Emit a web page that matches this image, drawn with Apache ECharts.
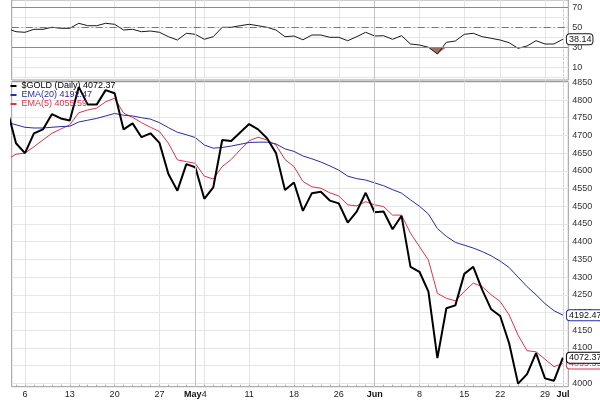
<!DOCTYPE html>
<html>
<head>
<meta charset="utf-8">
<script src="https://cdn.jsdelivr.net/npm/echarts@6/dist/echarts.min.js"></script>
<style>
  html, body { margin: 0; padding: 0; background: #fff; }
  #chart { width: 600px; height: 400px; }
</style>
</head>
<body>
<div id="chart"></div>
<script>
// trading days shown (Apr 2 sits just left of the plot and gets clipped)
var dates = [
  'Apr 2', 'Apr 3', 'Apr 6', 'Apr 7', 'Apr 8', 'Apr 9', 'Apr 10', 'Apr 13', 'Apr 14', 'Apr 15', 'Apr 16',
  'Apr 17', 'Apr 20', 'Apr 21', 'Apr 22', 'Apr 23', 'Apr 24', 'Apr 27', 'Apr 28', 'Apr 29', 'Apr 30',
  'May 1', 'May 4', 'May 5', 'May 6', 'May 7', 'May 8', 'May 11', 'May 12', 'May 13', 'May 14',
  'May 15', 'May 18', 'May 19', 'May 20', 'May 21', 'May 22', 'May 26', 'May 27', 'May 28', 'May 29',
  'Jun 1', 'Jun 2', 'Jun 3', 'Jun 4', 'Jun 5', 'Jun 8', 'Jun 9', 'Jun 10', 'Jun 11', 'Jun 12',
  'Jun 15', 'Jun 16', 'Jun 17', 'Jun 18', 'Jun 22', 'Jun 23', 'Jun 24', 'Jun 25', 'Jun 26', 'Jun 29',
  'Jun 30', 'Jul 1'
];

var closes = [
  4775, 4678, 4650, 4706, 4717, 4760, 4748, 4742, 4837, 4787, 4787,
  4828, 4819, 4717, 4734, 4695, 4706, 4679, 4591, 4544, 4619,
  4610, 4521, 4553, 4687, 4684, 4708, 4732, 4717, 4692, 4650,
  4546, 4567, 4487, 4537, 4541, 4516, 4508, 4454, 4485, 4538,
  4483, 4485, 4435, 4473, 4329, 4315, 4259, 4071, 4212, 4220,
  4309, 4329, 4264, 4209, 4190, 4113, 3999, 4026, 4085, 4014,
  4007, 4072.37
];

var ema20 = [
  4737, 4730, 4723, 4721, 4721, 4723, 4725, 4726, 4738, 4743, 4748,
  4755, 4762, 4757, 4755, 4750, 4746, 4736, 4722, 4709, 4702,
  4694, 4673, 4664, 4666, 4670, 4675, 4680, 4681, 4681, 4676,
  4662, 4655, 4642, 4634, 4625, 4614, 4602, 4585, 4578, 4574,
  4566, 4558, 4547, 4537, 4518, 4500, 4478, 4437, 4415, 4398,
  4390, 4382, 4372, 4360, 4345, 4327, 4300, 4273, 4250, 4225,
  4205, 4192.47
];

var ema5 = [
  4632, 4647, 4650, 4668, 4687, 4706, 4718, 4730, 4764, 4772, 4777,
  4795, 4805, 4763, 4751, 4736, 4723, 4711, 4678, 4631, 4626,
  4621, 4585, 4577, 4612, 4632, 4659, 4685, 4695, 4687, 4673,
  4632, 4612, 4570, 4555, 4551, 4538, 4529, 4504, 4501, 4513,
  4504, 4499, 4475, 4475, 4424, 4386, 4348, 4254, 4240, 4233,
  4259, 4283, 4273, 4250, 4231, 4193, 4136, 4092, 4089, 4068,
  4047, 4055.59
];

var rsi = [
  48.8, 45.6, 45, 48, 48, 50, 49, 49, 54, 51.6, 51.6,
  54, 53, 47.3, 48, 45.6, 46.3, 45, 40.6, 37.3, 44,
  43, 38, 40.6, 50, 50, 51.6, 53, 51.6, 50, 47.3,
  40.6, 41.3, 37.5, 42.3, 42.3, 40, 40, 36.6, 40.6, 45,
  41.3, 41.6, 38, 41.6, 33.3, 32.3, 30, 23.3, 35, 36.3,
  43, 44, 40.6, 39, 37.3, 34.6, 29, 31.3, 36.6, 33.3,
  33.3, 38.14
];

var priceTicks = [4000, 4050, 4100, 4150, 4200, 4250, 4300, 4350, 4400, 4450,
  4500, 4550, 4600, 4650, 4700, 4750, 4800, 4850];
var rsiTicks = [10, 30, 50, 70];
var rsiGridLines = [0, 10, 20, 30, 40, 50, 60, 70];
var xTickDates = ['Apr 6', 'Apr 13', 'Apr 20', 'Apr 27', 'May 1', 'May 4', 'May 11', 'May 18',
  'May 26', 'Jun 1', 'Jun 8', 'Jun 15', 'Jun 22', 'Jun 29', 'Jul 1'];
var xTickText = ['6', '13', '20', '27', 'May', '4', '11', '18', '26', 'Jun', '8', '15', '22', '29', 'Jul'];
var monthStarts = ['May 1', 'Jun 1', 'Jul 1'];

var C_CLOSE = '#000000', C_EMA20 = '#2a2aa6', C_EMA5 = '#e0304f';
var FONT = '"Liberation Sans", Arial, sans-serif';

function pairs(arr) {
  return arr.map(function (v, k) { return [k, v]; });
}

var xTickIdx = xTickDates.map(function (d) { return dates.indexOf(d); });
var dayIdx = dates.map(function (d, k) { return k; });
var tickLabel = {};
xTickIdx.forEach(function (k, j) {
  var t = xTickText[j];
  if (t === 'May') tickLabel[k] = '{ml|' + t + '}';
  else if (/^[A-Z]/.test(t)) tickLabel[k] = '{m|' + t + '}';
  else tickLabel[k] = t;
});

var monthLines = monthStarts.map(function (d, j) {
  return {
    xAxis: dates.indexOf(d),
    lineStyle: { color: j < 2 ? '#c4c4c4' : '#cccccc', type: j < 2 ? 'solid' : [2, 2], width: 1 }
  };
});

function dayAxis(gridIndex, withLabels) {
  return {
    type: 'value',
    gridIndex: gridIndex,
    min: 0.52,
    max: 62.6,
    axisLine: { show: false },
    axisTick: { show: false, customValues: xTickIdx },
    axisLabel: {
      show: withLabels,
      customValues: xTickIdx,
      fontSize: 9,
      fontFamily: FONT,
      color: '#222',
      margin: 3,
      formatter: function (v) { return tickLabel[v] || ''; },
      rich: {
        m: { fontSize: 9, fontWeight: 'bold', fontFamily: FONT, color: '#111' },
        ml: { fontSize: 9, fontWeight: 'bold', fontFamily: FONT, color: '#111', padding: [0, 5, 0, 0] }
      }
    },
    splitLine: { show: true, lineStyle: { color: '#e4e4e4', width: 1 } }
  };
}

function endTag(color) {
  return {
    show: true,
    distance: 4,
    fontSize: 9,
    fontFamily: FONT,
    color: color === C_EMA5 ? C_EMA5 : '#111',
    backgroundColor: '#fff',
    borderColor: color,
    borderWidth: 1,
    borderRadius: 3,
    padding: [1, 1, 0, 2],
    formatter: function (p) { return p.value[1].toFixed(2); }
  };
}

function plain(v) { return String(v); }

var lastVal = {
  '$GOLD (Daily)': closes[closes.length - 1].toFixed(2),
  'EMA(20)': ema20[ema20.length - 1].toFixed(2),
  'EMA(5)': ema5[ema5.length - 1].toFixed(2)
};

var chart = echarts.init(document.getElementById('chart'));

chart.setOption({
  animation: false,
  backgroundColor: '#fff',
  grid: [
    { left: 11.7, right: 31.7, top: 0, height: 80, show: true, borderColor: '#9a9a9a', borderWidth: 1 },
    { left: 11.7, right: 31.7, top: 81.5, height: 305.2, show: true, borderColor: '#9a9a9a', borderWidth: 1 }
  ],
  legend: {
    left: 10.5,
    top: 81.5,
    orient: 'vertical',
    padding: 0,
    itemGap: 0,
    itemWidth: 6,
    itemHeight: 2,
    icon: 'rect',
    selectedMode: false,
    formatter: function (name) { return name + ' ' + lastVal[name]; },
    textStyle: { fontSize: 9, fontFamily: FONT, lineHeight: 8.3 },
    data: [
      { name: '$GOLD (Daily)', textStyle: { color: C_CLOSE } },
      { name: 'EMA(20)', textStyle: { color: C_EMA20 } },
      { name: 'EMA(5)', textStyle: { color: C_EMA5 } }
    ]
  },
  xAxis: [
    dayAxis(0, false),
    dayAxis(1, true),
    {
      // small daily tick marks along the bottom
      type: 'value', gridIndex: 1, position: 'bottom', min: 0.52, max: 62.6,
      axisLine: { show: false },
      axisTick: { show: true, inside: true, length: 2, customValues: dayIdx, lineStyle: { color: '#aaa' } },
      axisLabel: { show: false },
      splitLine: { show: false }
    }
  ],
  yAxis: [
    {
      type: 'value', gridIndex: 0, position: 'right', min: -2.7, max: 77.3,
      axisLine: { show: false },
      axisTick: { show: false, customValues: rsiGridLines },
      axisLabel: { customValues: rsiTicks, fontSize: 9, fontFamily: FONT, color: '#333', margin: 4, formatter: plain },
      splitLine: { lineStyle: { color: '#e6e6e6' } }
    },
    {
      type: 'value', gridIndex: 1, position: 'right', min: 3990.4, max: 4852.3,
      axisLine: { show: false },
      axisTick: { show: false, customValues: priceTicks },
      axisLabel: { customValues: priceTicks, fontSize: 9, fontFamily: FONT, color: '#333', margin: 4, formatter: plain },
      splitLine: { lineStyle: { color: '#e6e6e6' } }
    }
  ],
  series: [
    {
      name: 'RSI fill',
      type: 'line',
      xAxisIndex: 0, yAxisIndex: 0,
      data: pairs(rsi.map(function (v) { return Math.min(v, 30); })),
      showSymbol: false,
      lineStyle: { width: 0 },
      areaStyle: { origin: 30, color: '#a06e69', opacity: 1 },
      markLine: {
        silent: true, symbol: 'none', label: { show: false },
        data: monthLines.concat([
          { yAxis: 70, lineStyle: { color: '#8a8a8a', type: 'solid', width: 1 } },
          { yAxis: 30, lineStyle: { color: '#8a8a8a', type: 'solid', width: 1 } },
          { yAxis: 50, lineStyle: { color: '#777', type: [7, 3, 1, 3], width: 1 } }
        ])
      }
    },
    {
      name: 'RSI',
      type: 'line',
      xAxisIndex: 0, yAxisIndex: 0,
      data: pairs(rsi),
      showSymbol: false,
      lineStyle: { color: '#1a1a1a', width: 1 },
      itemStyle: { color: '#1a1a1a' },
      endLabel: endTag('#1a1a1a')
    },
    {
      name: 'EMA(5)',
      type: 'line',
      xAxisIndex: 1, yAxisIndex: 1,
      data: pairs(ema5),
      showSymbol: false,
      lineStyle: { color: C_EMA5, width: 1 },
      itemStyle: { color: C_EMA5 },
      endLabel: endTag(C_EMA5),
      markLine: {
        silent: true, symbol: 'none', label: { show: false },
        data: monthLines
      }
    },
    {
      name: 'EMA(20)',
      type: 'line',
      xAxisIndex: 1, yAxisIndex: 1,
      data: pairs(ema20),
      showSymbol: false,
      lineStyle: { color: C_EMA20, width: 1 },
      itemStyle: { color: C_EMA20 },
      endLabel: endTag(C_EMA20)
    },
    {
      name: '$GOLD (Daily)',
      type: 'line',
      xAxisIndex: 1, yAxisIndex: 1,
      data: pairs(closes),
      showSymbol: false,
      lineStyle: { color: C_CLOSE, width: 2 },
      itemStyle: { color: C_CLOSE },
      endLabel: endTag(C_CLOSE)
    }
  ]
});
</script>
</body>
</html>
